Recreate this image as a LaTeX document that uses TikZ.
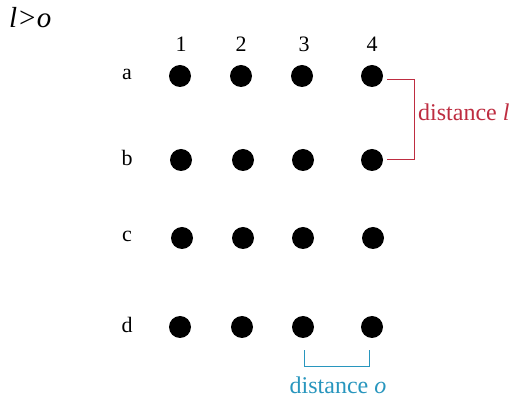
\documentclass[tikz,border=0pt]{standalone}
\usepackage{fontspec}
\setmainfont{Liberation Serif}
\definecolor{lred}{RGB}{190,45,65}
\definecolor{oblue}{RGB}{40,150,190}
\begin{document}
\begin{tikzpicture}[x=1pt,y=-1pt,
  dot/.style={circle,fill=black,inner sep=0pt,minimum size=22pt},
  lbl/.style={font=\fontsize{22}{24}\selectfont,inner sep=0pt},
  dlbl/.style={font=\fontsize{24}{26}\selectfont,inner sep=0pt}]
\useasboundingbox[fill=white] (0,0) rectangle (523,403);
\node[font=\fontsize{29}{31}\selectfont,inner sep=0pt,anchor=west] (rel) at (9,18) {\itshape l>o};
\foreach \n/\x in {1/181,2/241,3/304,4/372}{
  \node[lbl] (col\n) at (\x,44) {\n};
}
\foreach \r/\y in {a/76,b/160,c/238,d/327}{
  \node[lbl] (row\r) at (127,\y-2) {\r};
}
\foreach \r/\y/\xa/\xb/\xc/\xd in {a/76/180/241/302/372,b/160/181/243/303/372,c/238/182/243/303/373,d/327/180/242/303/372}{
  \node[dot] (\r1) at (\xa,\y) {};
  \node[dot] (\r2) at (\xb,\y) {};
  \node[dot] (\r3) at (\xc,\y) {};
  \node[dot] (\r4) at (\xd,\y) {};
}
\coordinate (lt) at (414,80);
\coordinate (lb) at (414,160);
\draw[lred,line width=1pt] ([xshift=4pt]a4.east|-lt) -- (lt) -- (lb) -- ([xshift=4pt]b4.east|-lb);
\node[dlbl,text=lred,anchor=west] (dl) at (418,112) {distance \textit{l}};
\coordinate (ol) at (304,367);
\coordinate (or) at (369,367);
\draw[oblue,line width=1pt] ([yshift=-12pt]d3.south-|ol) -- (ol) -- (or) -- ([yshift=-12pt]d4.south-|or);
\node[dlbl,text=oblue] (do) at (338,385) {distance \textit{o}};
\end{tikzpicture}
\end{document}
